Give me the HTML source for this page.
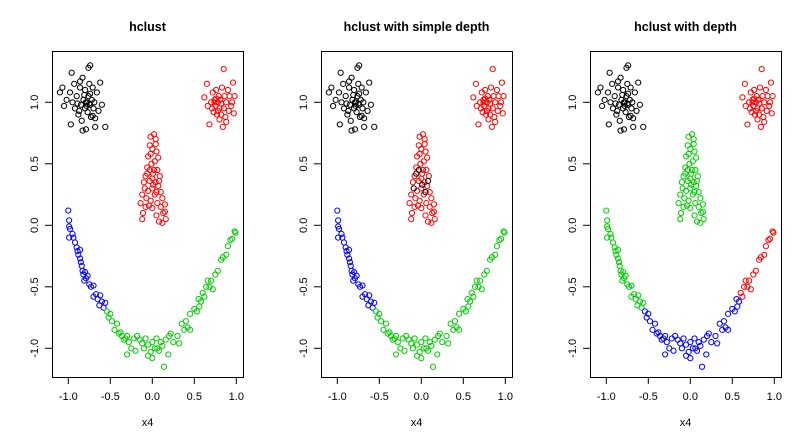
<!DOCTYPE html>
<html><head><meta charset="utf-8"><style>
html,body{margin:0;padding:0;background:#fff;}
svg{display:block;font-family:"Liberation Sans",Arial,sans-serif;}
</style></head>
<body>
<svg id="chart" width="811" height="442" viewBox="0 0 811 442" xmlns="http://www.w3.org/2000/svg"></svg>
<script>
const panelTitles = ["hclust", "hclust with simple depth", "hclust with depth"];
const xTicks = [-1.0, -0.5, 0.0, 0.5, 1.0];
const xTickLabels = ["-1.0", "-0.5", "0.0", "0.5", "1.0"];
const yTicks = [-1.0, -0.5, 0.0, 0.5, 1.0];
const yTickLabels = ["-1.0", "-0.5", "0.0", "0.5", "1.0"];
const eyeLeft = [[-0.98,1.08],[-0.95,1.0],[-0.92,0.95],[-0.9,1.05],[-0.88,0.9],[-0.86,1.12],[-0.85,0.98],[-0.84,0.85],[-0.83,1.2],[-0.82,1.02],[-0.8,0.95],[-0.8,1.1],[-0.79,0.78],[-0.78,1.0],[-0.77,0.92],[-0.76,1.05],[-0.75,1.15],[-0.74,0.98],[-0.73,0.88],[-0.72,1.02],[-0.71,1.12],[-0.7,0.95],[-0.69,1.0],[-0.68,0.8],[-0.66,1.08],[-0.64,0.93],[-0.62,1.16],[-0.6,0.98],[-0.56,0.8],[-1.1,1.08],[-1.07,1.12],[-1.05,0.97],[-1.02,1.02],[-0.97,0.82],[-0.93,1.15],[-0.89,0.99],[-0.87,0.93],[-0.81,1.06],[-0.74,1.3],[-0.76,1.28],[-0.83,0.77],[-0.71,0.89],[-0.79,1.0],[-0.78,0.97],[-0.75,0.99],[-0.96,1.24],[-0.86,1.17],[-0.68,0.87],[-0.74,1.07]];
const eyeRight = [[0.62,1.04],[0.65,1.15],[0.68,0.82],[0.7,1.0],[0.71,0.95],[0.72,1.08],[0.73,0.92],[0.74,1.02],[0.75,0.97],[0.76,1.1],[0.77,0.9],[0.78,1.0],[0.79,1.05],[0.8,0.86],[0.8,0.95],[0.81,1.02],[0.82,0.99],[0.83,1.12],[0.84,0.8],[0.85,1.27],[0.85,0.95],[0.86,1.05],[0.87,0.88],[0.88,1.0],[0.9,1.1],[0.91,0.93],[0.92,1.05],[0.94,0.97],[0.96,1.16],[0.97,0.91],[0.98,1.05],[0.66,0.97],[0.74,1.0],[0.78,0.93],[0.82,0.9],[0.76,1.03],[0.88,0.84],[0.95,1.0]];
const nose = [[-0.02,0.72],[0.02,0.74],[0.04,0.7],[-0.03,0.65],[0.05,0.6],[0.0,0.62],[-0.05,0.56],[0.07,0.55],[-0.01,0.5],[0.03,0.52],[-0.06,0.47],[0.06,0.45],[0.01,0.42],[-0.08,0.4],[0.09,0.4],[-0.03,0.36],[0.04,0.35],[-0.1,0.35],[0.07,0.32],[0.0,0.3],[-0.05,0.28],[0.1,0.27],[0.03,0.25],[-0.12,0.25],[0.12,0.22],[-0.02,0.2],[0.06,0.18],[-0.14,0.18],[-0.08,0.15],[0.1,0.15],[0.15,0.17],[0.0,0.14],[-0.11,0.1],[0.13,0.1],[0.05,0.08],[-0.12,0.05],[0.08,0.03],[0.16,0.05],[-0.04,0.16],[0.02,0.45],[-0.02,0.58],[0.04,0.66],[0.0,0.38],[-0.07,0.22],[0.12,0.02],[0.15,0.11]];
const noseMixed = [[-0.06,0.42],[0.01,0.33],[-0.09,0.3],[0.05,0.27],[-0.03,0.45],[0.08,0.36]];
const mouthLeft = [[-1.0,0.12],[-0.99,0.04],[-0.99,-0.01],[-0.98,-0.03],[-0.99,-0.1],[-0.95,-0.07],[-0.94,-0.1],[-0.92,-0.14],[-0.9,-0.18],[-0.89,-0.21],[-0.88,-0.24],[-0.86,-0.27],[-0.85,-0.3],[-0.84,-0.33],[-0.83,-0.37],[-0.82,-0.4],[-0.8,-0.38],[-0.79,-0.43],[-0.77,-0.41],[-0.75,-0.48],[-0.73,-0.5],[-0.7,-0.49],[-0.7,-0.58],[-0.67,-0.56],[-0.65,-0.6],[-0.63,-0.65],[-0.6,-0.62],[-0.58,-0.67],[-0.56,-0.63],[-0.62,-0.57],[-0.86,-0.2],[-0.81,-0.45]];
const mouthMiddle = [[-0.54,-0.7],[-0.52,-0.75],[-0.5,-0.72],[-0.48,-0.78],[-0.45,-0.85],[-0.42,-0.8],[-0.38,-0.87],[-0.36,-0.9],[-0.32,-0.92],[-0.3,-0.9],[-0.28,-0.95],[-0.25,-1.0],[-0.22,-0.92],[-0.2,-1.02],[-0.15,-0.93],[-0.12,-0.96],[-0.1,-1.0],[-0.08,-0.92],[-0.05,-0.97],[-0.02,-1.03],[0.0,-0.95],[0.03,-1.0],[0.05,-0.92],[0.08,-1.02],[0.1,-0.95],[0.12,-0.98],[0.14,-1.15],[0.16,-0.93],[0.19,-1.05],[0.22,-0.88],[0.25,-0.95],[0.3,-0.9],[0.32,-0.96],[0.35,-0.8],[0.38,-0.85],[0.4,-0.78],[0.42,-0.83],[0.45,-0.72],[0.5,-0.68],[0.53,-0.7],[0.56,-0.66],[0.58,-0.62],[-0.3,-1.05],[-0.05,-1.06],[-0.4,-0.88],[0.0,-1.08],[0.2,-0.9],[-0.18,-0.9],[0.45,-0.85],[0.55,-0.6],[-0.34,-0.93],[0.06,-1.0]];
const mouthRight = [[0.62,-0.58],[0.64,-0.5],[0.66,-0.45],[0.7,-0.45],[0.72,-0.52],[0.75,-0.4],[0.78,-0.37],[0.82,-0.28],[0.84,-0.26],[0.88,-0.24],[0.9,-0.17],[0.93,-0.12],[0.95,-0.11],[0.98,-0.05],[0.99,-0.06],[0.6,-0.55],[0.68,-0.5]];
const groupNames = ["eye-left","eye-right","nose","nose-mixed","mouth-left","mouth-middle","mouth-right"];
const groupColors1 = ["#000000","#FF0000","#FF0000","#FF0000","#0000FF","#00CD00","#00CD00"];
const groupColors2 = ["#000000","#FF0000","#FF0000","#000000","#0000FF","#00CD00","#00CD00"];
const groupColors3 = ["#000000","#FF0000","#00CD00","#00CD00","#00CD00","#0000FF","#FF0000"];

const groups = [eyeLeft, eyeRight, nose, noseMixed, mouthLeft, mouthMiddle, mouthRight];
const panelColors = [groupColors1, groupColors2, groupColors3];
const svg = document.getElementById('chart');
const NS = 'http://www.w3.org/2000/svg';
function mk(tag, attrs, parent){ const e=document.createElementNS(NS,tag); for(const k in attrs) e.setAttribute(k,attrs[k]); parent.appendChild(e); return e; }

const panelOffsets = [0, 269, 538];
const boxL = 52, boxR = 243, boxT = 51, boxB = 377;
panelTitles.forEach((title, p) => {
  const off = panelOffsets[p];
  const sx = v => off + 152.3 + v * 84;
  const sy = v => 225.3 - v * 123;
  const g = mk('g', {}, svg);
  
  
  const t = mk('text', {x: off + (boxL+boxR)/2, y: 31, 'text-anchor':'middle', 'font-size':'12.5', 'font-weight':'bold', fill:'#000'}, g);
  t.textContent = title;
  
  
  const box = mk('rect', {x: off+boxL+0.5, y: boxT+0.5, width: boxR-boxL, height: boxB-boxT, fill:'none', stroke:'#000', 'stroke-width':1}, g);
  
  
  // x axis
  const xa = mk('g', {}, g);
  
  
  mk('line', {x1: sx(xTicks[0]), x2: sx(xTicks[xTicks.length-1]), y1: boxB+0.5, y2: boxB+0.5, stroke:'#000'}, xa);
  xTicks.forEach((v,i) => {
    mk('line', {x1: sx(v), x2: sx(v), y1: boxB, y2: boxB+7, stroke:'#000'}, xa);
    const tl = mk('text', {x: sx(v), y: 400, 'text-anchor':'middle', 'font-size':'11', fill:'#000'}, xa);
    tl.textContent = xTickLabels[i];
    
    
  });
  const xt = mk('text', {x: off + (boxL+boxR)/2, y: 426, 'text-anchor':'middle', 'font-size':'11', fill:'#000'}, g);
  xt.textContent = 'x4';
  
  
  // y axis
  const ya = mk('g', {}, g);
  
  
  mk('line', {x1: off+boxL+0.5, x2: off+boxL+0.5, y1: sy(yTicks[0]), y2: sy(yTicks[yTicks.length-1]), stroke:'#000'}, ya);
  yTicks.forEach((v,i) => {
    mk('line', {x1: off+boxL-7, x2: off+boxL, y1: sy(v), y2: sy(v), stroke:'#000'}, ya);
    const tl = mk('text', {x: 0, y: 0, 'text-anchor':'middle', 'font-size':'11', fill:'#000', transform:'translate('+(off+38)+','+sy(v)+') rotate(-90)'}, ya);
    tl.textContent = yTickLabels[i];
    
    
  });
  // points
  groups.forEach((pts, gi) => {
    const pg = mk('g', {fill:'none', stroke: panelColors[p][gi], 'stroke-width':1}, g);
    
    
    pts.forEach(pt => {
      const c = mk('circle', {cx: sx(pt[0]), cy: sy(pt[1]), r: 2.6}, pg);
      
      
    });
  });
});
</script>
</body></html>
